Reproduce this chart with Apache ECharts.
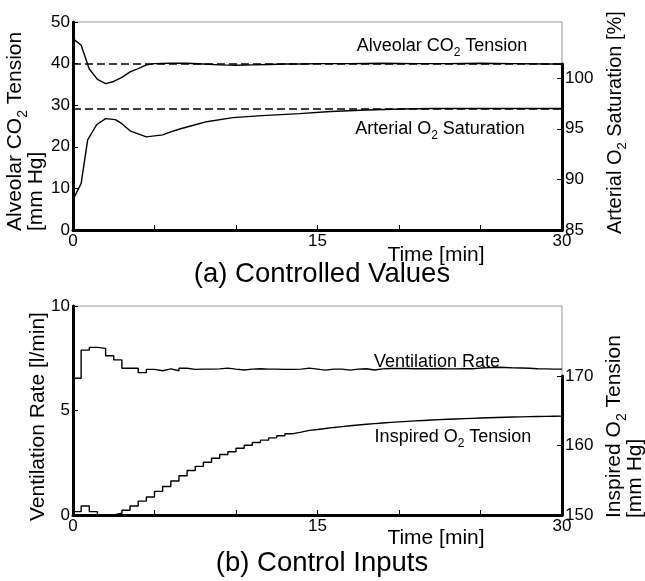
<!DOCTYPE html>
<html>
<head>
<meta charset="utf-8">
<script src="https://cdn.jsdelivr.net/npm/echarts@6/dist/echarts.min.js"></script>
<style>
  html, body { margin: 0; padding: 0; background: #fff; }
  #chart { width: 645px; height: 581px; }
</style>
</head>
<body>
<div id="chart"></div>
<script>
// (a) controlled values
var co2Time = [0, 0.5, 1, 1.5, 2, 2.5, 3, 3.5, 4, 4.5, 5, 6, 7, 8, 9, 10, 11, 12, 13, 14, 15, 17, 19, 21, 23, 25, 27, 29, 30]
var co2Tension = [46.0, 44.4, 38.7, 36.2, 35.2, 35.7, 36.7, 38.0, 38.8, 39.7, 40.0, 40.1, 40.1, 39.9, 39.7, 39.6, 39.7, 39.8, 39.9, 39.9, 40.0, 40.0, 40.1, 40.0, 40.0, 40.1, 40.0, 39.9, 39.9]
var satTime = [0, 0.5, 0.9, 1.45, 2, 2.6, 3, 3.5, 4.5, 5, 5.5, 6, 6.6, 7.5, 8.2, 9.8, 11.6, 13.9, 15.8, 18, 20.2, 22, 25, 30]
var o2Saturation = [88.0, 89.6, 93.9, 95.4, 96.0, 95.9, 95.5, 94.8, 94.2, 94.3, 94.4, 94.7, 95.0, 95.4, 95.7, 96.1, 96.3, 96.5, 96.7, 96.85, 96.95, 97.0, 97.0, 97.0]
var co2Setpoint = 40
var satSetpoint = 97

// (b) control inputs, held for 0.5 min each
var stepMin = 0.5
var ventRate = [6.54, 7.89, 8.02, 7.97, 7.62, 7.42, 7.02, 7.02, 6.81, 6.97,
  6.90, 6.99, 6.90, 7.02, 6.97, 6.98, 6.98, 6.99, 7.03, 6.98,
  6.94, 6.98, 7.00, 6.98, 6.98, 6.97, 6.97, 6.98, 7.03, 6.98,
  6.93, 6.98, 6.98, 6.93, 6.98, 7.00, 6.94, 6.99, 7.01, 7.01,
  7.01, 7.00, 7.00, 7.00, 7.01, 6.99, 6.99, 7.00, 7.00, 7.03,
  7.05, 7.07, 7.06, 7.04, 7.03, 7.02, 7.00, 6.99, 6.98, 6.98]
var inspO2 = [150.48, 151.3, 150.48, 150.0, 150.0, 150.25, 150.68, 151.3, 152.0, 152.6,
  153.4, 154.1, 154.9, 155.65, 156.4, 157.0, 157.6, 158.16, 158.7, 159.1,
  159.6, 160.04, 160.43, 160.77, 161.1, 161.4, 161.7, 161.93, 162.17, 162.3,
  162.45, 162.6, 162.72, 162.84, 162.95, 163.05, 163.15, 163.24, 163.32, 163.4,
  163.47, 163.54, 163.6, 163.66, 163.72, 163.77, 163.82, 163.87, 163.91, 163.95,
  163.99, 164.03, 164.06, 164.09, 164.12, 164.15, 164.17, 164.19, 164.21, 164.23]

var xTickLabels = [0, 15, 30]

var FONT = 'Liberation Sans, Arial, sans-serif'

function pairs(t, v) {
  return v.map(function(y, i) { return [t[i], y] })
}
function held(v) {
  var out = v.map(function(y, i) { return [i * stepMin, y] })
  out.push([v.length * stepMin, v[v.length - 1]])
  return out
}

var rich = {
  n: { fontFamily: FONT, fontSize: 21, lineHeight: 20, verticalAlign: 'top', color: '#000' },
  s: { fontFamily: FONT, fontSize: 14, lineHeight: 14, verticalAlign: 'top', padding: [11, 0, 0, 0], color: '#000' }
}
var richMid = {
  n: { fontFamily: FONT, fontSize: 20, lineHeight: 20, verticalAlign: 'top', color: '#000' },
  s: { fontFamily: FONT, fontSize: 13, lineHeight: 13, verticalAlign: 'top', padding: [11, 0, 0, 0], color: '#000' }
}
var richSmall = {
  n: { fontFamily: FONT, fontSize: 18, lineHeight: 18, verticalAlign: 'top', color: '#000' },
  s: { fontFamily: FONT, fontSize: 12, lineHeight: 12, verticalAlign: 'top', padding: [10, 0, 0, 0], color: '#000' }
}

function label(text, x, y, opts) {
  opts = opts || {}
  return {
    type: 'text',
    x: x,
    y: y,
    rotation: opts.rotate ? Math.PI / 2 : 0,
    silent: true,
    style: {
      text: text,
      rich: opts.rich || rich,
      align: opts.align || 'left',
      verticalAlign: opts.valign || 'top',
      fill: '#000'
    }
  }
}

function xAxisFor(grid, show) {
  return {
    type: 'value',
    gridIndex: grid,
    min: 0,
    max: 30,
    interval: 5,
    show: show,
    axisLine: { show: true, onZero: false, lineStyle: { color: '#000', width: 3 } },
    axisTick: { show: true, inside: true, length: 5, lineStyle: { color: '#000', width: 1 } },
    axisLabel: {
      color: '#000', fontFamily: FONT, fontSize: 17, margin: 3,
      formatter: function(v) { return xTickLabels.indexOf(v) >= 0 ? String(v) : '' }
    },
    splitLine: { show: false }
  }
}

function yAxisFor(grid, pos, min, max, interval) {
  return {
    type: 'value',
    gridIndex: grid,
    position: pos,
    min: min,
    max: max,
    interval: interval,
    axisLine: { show: true, onZero: false, lineStyle: { color: '#000', width: 3 } },
    axisTick: { show: true, inside: true, length: 5, lineStyle: { color: '#000', width: 1 } },
    axisLabel: {
      color: '#000', fontFamily: FONT, fontSize: 17, margin: 3,
      formatter: function(v) { return v % interval === 0 ? String(v) : '' }
    },
    splitLine: { show: false }
  }
}

var lineStyle = { color: '#000', width: 1.4 }
var dashStyle = { color: '#000', width: 1.5, type: [8, 4] }

var chart = echarts.init(document.getElementById('chart'))
chart.setOption({
  animation: false,
  backgroundColor: '#fff',
  grid: [
    { left: 73, right: 83, top: 22, bottom: 351, show: true, borderColor: '#999', borderWidth: 1, outerBoundsMode: 'none' },
    { left: 73, right: 83, top: 64, bottom: 351, outerBoundsMode: 'none' },
    { left: 73, right: 83, top: 306, bottom: 66, show: true, borderColor: '#999', borderWidth: 1, outerBoundsMode: 'none' },
    { left: 73, right: 83, top: 376, bottom: 66, outerBoundsMode: 'none' }
  ],
  xAxis: [xAxisFor(0, true), xAxisFor(1, false), xAxisFor(2, true), xAxisFor(3, false)],
  yAxis: [
    yAxisFor(0, 'left', 0, 50, 10),
    yAxisFor(1, 'right', 85, 101.4, 5),
    yAxisFor(2, 'left', 0, 10, 5),
    yAxisFor(3, 'right', 150, 170, 10)
  ],
  series: [
    {
      name: 'Alveolar CO2 Tension', type: 'line', xAxisIndex: 0, yAxisIndex: 0,
      data: pairs(co2Time, co2Tension), showSymbol: false, lineStyle: lineStyle, clip: false,
      markLine: { silent: true, symbol: 'none', label: { show: false }, lineStyle: dashStyle, data: [{ yAxis: co2Setpoint }] }
    },
    {
      name: 'Arterial O2 Saturation', type: 'line', xAxisIndex: 1, yAxisIndex: 1,
      data: pairs(satTime, o2Saturation), showSymbol: false, lineStyle: lineStyle, clip: false,
      markLine: { silent: true, symbol: 'none', label: { show: false }, lineStyle: dashStyle, data: [{ yAxis: satSetpoint }] }
    },
    {
      name: 'Ventilation Rate', type: 'line', step: 'end', xAxisIndex: 2, yAxisIndex: 2,
      data: held(ventRate), showSymbol: false, lineStyle: lineStyle, clip: false
    },
    {
      name: 'Inspired O2 Tension', type: 'line', step: 'end', xAxisIndex: 3, yAxisIndex: 3,
      data: held(inspO2), showSymbol: false, lineStyle: lineStyle, clip: false
    }
  ],
  graphic: [
    // axis titles, rotated
    label('{n|Alveolar CO}{s|2}{n| Tension}', 5, 231, { rotate: true }),
    label('{n|[mm Hg]}', 26, 231, { rotate: true }),
    label('{n|Arterial O}{s|2}{n| Saturation [%]}', 605, 234, { rotate: true, rich: richMid }),
    label('{n|Ventilation Rate [l/min]}', 28, 521, { rotate: true }),
    label('{n|Inspired O}{s|2}{n| Tension}', 604, 518, { rotate: true }),
    label('{n|[mm Hg]}', 625, 518, { rotate: true }),
    // x axis names
    label('{n|Time [min]}', 436, 245, { align: 'center' }),
    label('{n|Time [min]}', 436, 528, { align: 'center' }),
    // in-plot annotations
    label('{n|Alveolar CO}{s|2}{n| Tension}', 442, 37, { align: 'center', rich: richSmall }),
    label('{n|Arterial O}{s|2}{n| Saturation}', 440, 120, { align: 'center', rich: richSmall }),
    label('{n|Ventilation Rate}', 437, 353, { align: 'center', rich: richSmall }),
    label('{n|Inspired O}{s|2}{n| Tension}', 453, 428, { align: 'center', rich: richSmall }),
    // panel captions
    { type: 'text', x: 322, y: 274, silent: true, style: { text: '(a) Controlled Values', fontFamily: FONT, fontSize: 27.5, fill: '#000', align: 'center', verticalAlign: 'middle' } },
    { type: 'text', x: 322, y: 563, silent: true, style: { text: '(b) Control Inputs', fontFamily: FONT, fontSize: 27.5, fill: '#000', align: 'center', verticalAlign: 'middle' } }
  ]
})
</script>
</body>
</html>
